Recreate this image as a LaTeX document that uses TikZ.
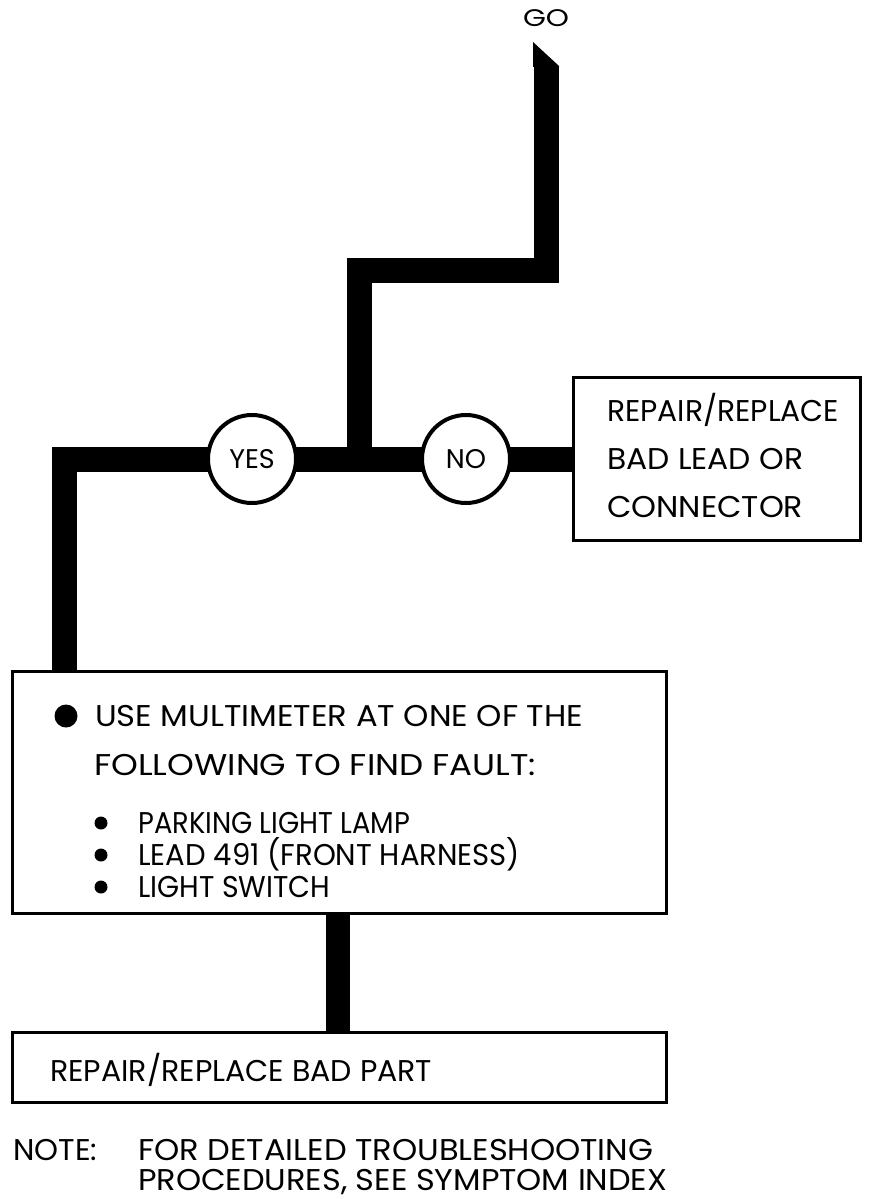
\documentclass[tikz,border=0pt]{standalone}
\usepackage{graphicx}
\usepackage{fontspec}
\setmainfont{Poppins}
\newcommand{\fitw}[2]{\resizebox{#1}{\height}{#2}}
\begin{document}
\begin{tikzpicture}[x=1pt,y=-1pt,
  bar/.style={line width=25pt, line join=miter, line cap=butt},
  box/.style={draw, line width=3pt, rectangle, inner sep=0pt, outer sep=0pt},
  ring/.style={draw, circle, line width=4pt, fill=white, minimum size=88pt, inner sep=0pt, outer sep=0pt, font=\fontsize{27}{30}\selectfont},
  txt/.style={anchor=base west, inner sep=0pt, font=\fontsize{30}{34}\selectfont},
  dot/.style={circle, fill, inner sep=0pt, minimum size=#1}]
\useasboundingbox (0,0) rectangle (873,1199);
% title
\node[anchor=base, inner sep=0pt, font=\fontsize{24}{26}\selectfont] (go) at (546,27) {\fitw{46pt}{GO}};
% boxes
\node[box, minimum width=287pt, minimum height=163pt] (rb) at (716.5,459) {};
\node[box, minimum width=654pt, minimum height=242pt] (mb) at (339,792) {};
\node[box, minimum width=654pt, minimum height=70pt] (bb) at (339,1067) {};
% decision circles
\node[ring] (yes) at (252,459) {YES};
\node[ring] (no) at (466,459) {NO};
% routing points
\coordinate (lc) at (64,459);
\coordinate (jn) at (359.5,459);
\coordinate (tc) at (359.5,270.5);
\coordinate (tr) at (546,270.5);
\coordinate (tt) at (546,66);
\coordinate (mc) at (338,0);
% bars
\draw[bar] (rb.west) -- (no);
\draw[bar] (no) -- (yes);
\draw[bar] (yes) -- (lc) -- (lc |- mb.north);
\draw[bar] (jn) -- (tc) -- (tr) -- (tt);
\fill (533,42) -- (559,66) -- (559,67) -- (533,67) -- cycle;
\draw[bar, line width=24pt] (mb.south -| mc) -- (bb.north -| mc);
% right box text
\node[txt] (r1) at (607,421.5) {\fitw{232pt}{REPAIR/REPLACE}};
\node[txt] (r2) at (607,469.5) {\fitw{196pt}{BAD LEAD OR}};
\node[txt] (r3) at (607,517.5) {\fitw{196pt}{CONNECTOR}};
% middle box text
\node[dot=23pt] (bd) at (66,716) {};
\node[txt] (m1) at (95,726.5) {\fitw{488pt}{USE MULTIMETER AT ONE OF THE}};
\node[txt] (m2) at (94,775.5) {\fitw{442pt}{FOLLOWING TO FIND FAULT:}};
\node[dot=13pt] (d1) at (101,823) {};
\node[dot=13pt] (d2) at (101,855) {};
\node[dot=13pt] (d3) at (101,887) {};
\node[txt] (s1) at (138,833.5) {\fitw{272pt}{PARKING LIGHT LAMP}};
\node[txt] (s2) at (138,865.5) {\fitw{382pt}{LEAD 491 (FRONT HARNESS)}};
\node[txt] (s3) at (138,897.5) {\fitw{192pt}{LIGHT SWITCH}};
% bottom box text
\node[txt] (bt) at (50,1081) {\fitw{382pt}{REPAIR/REPLACE BAD PART}};
% note
\node[txt] (n0) at (13,1160) {\fitw{84pt}{NOTE:}};
\node[txt] (n1) at (138,1160) {\fitw{515pt}{FOR DETAILED TROUBLESHOOTING}};
\node[txt] (n2) at (138,1190) {\fitw{529pt}{PROCEDURES, SEE SYMPTOM INDEX}};
\end{tikzpicture}
\end{document}
